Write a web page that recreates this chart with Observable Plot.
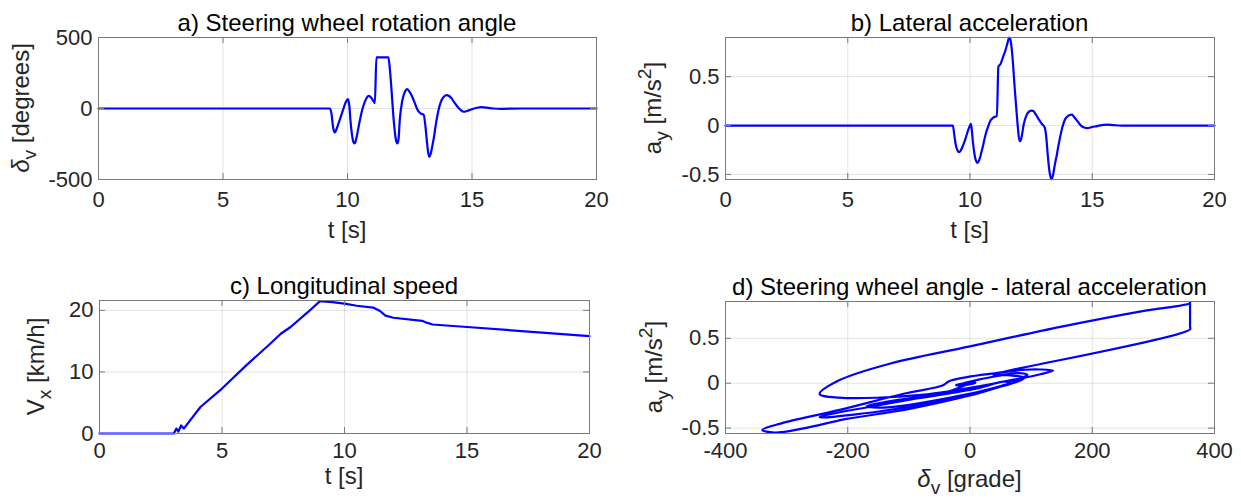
<!DOCTYPE html>
<html><head><meta charset="utf-8">
<script src="https://cdn.jsdelivr.net/npm/d3@7"></script>
<script src="https://cdn.jsdelivr.net/npm/@observablehq/plot@0.6"></script>
<style>
body{margin:0;background:#fff;}
#root{position:relative;width:1241px;height:500px;overflow:hidden;background:#fff;}
#root svg{position:absolute;overflow:visible;}
</style></head><body><div id="root"></div>
<script>
// ---- data ----
const timeMain = [0, 9.30, 9.36, 9.42, 9.49, 9.55, 9.62, 9.72, 9.82, 9.92, 10.01, 10.04, 10.08, 10.12, 10.17, 10.22, 10.28, 10.31, 10.38, 10.45, 10.52, 10.59, 10.66, 10.74, 10.81, 10.86, 10.92, 10.99, 11.05, 11.10, 11.16, 11.25, 11.35, 11.45, 11.53, 11.60, 11.64, 11.70, 11.76, 11.82, 11.88, 11.94, 12.00, 12.05, 12.10, 12.20, 12.30, 12.40, 12.50, 12.58, 12.70, 12.80, 12.93, 13.06, 13.12, 13.18, 13.24, 13.29, 13.34, 13.40, 13.47, 13.55, 13.62, 13.70, 13.78, 13.88, 13.98, 14.08, 14.16, 14.28, 14.41, 14.54, 14.67, 14.80, 15.00, 15.20, 15.38, 15.60, 15.86, 16.20, 17.00, 20.00];
const steerDeg = [0, 0, -40, -130, -169, -150, -115, -63, -10, 40, 66, 55, 10, -87, -170, -225, -246, -240, -190, -125, -63, -10, 30, 65, 84, 89, 82, 66, 50, 38, 360, 360, 360, 360, 360, 360, 360, 280, 150, 0, -130, -215, -246, -215, -80, 55, 115, 136, 115, 90, 40, -5, -35, -44, -110, -215, -310, -340, -320, -270, -204, -110, -40, 20, 60, 85, 94, 88, 75, 45, 14, -10, -23, -18, -5, 5, 9, 6, 0, -2, 0, 0];
const latAcc = [0, 0, -0.10, -0.20, -0.255, -0.272, -0.255, -0.20, -0.13, -0.05, 0.005, 0.017, -0.06, -0.17, -0.27, -0.34, -0.375, -0.381, -0.35, -0.29, -0.22, -0.14, -0.07, -0.01, 0.035, 0.06, 0.075, 0.088, 0.093, 0.095, 0.60, 0.63, 0.70, 0.77, 0.84, 0.90, 0.89, 0.80, 0.63, 0.41, 0.22, 0.03, -0.12, -0.16, -0.13, 0.017, 0.10, 0.14, 0.153, 0.15, 0.11, 0.068, 0.02, -0.024, -0.12, -0.30, -0.45, -0.52, -0.55, -0.50, -0.40, -0.30, -0.20, -0.10, -0.015, 0.06, 0.092, 0.108, 0.112, 0.08, 0.04, 0.0, -0.02, -0.027, -0.015, -0.005, 0.005, 0.01, 0.005, 0, 0, 0];
const timeSpeed = [0, 3.03, 3.14, 3.22, 3.33, 3.44, 4.12, 5.0, 6.0, 7.0, 7.4, 7.8, 8.5, 9.0, 9.5, 10.0, 10.5, 11.17, 11.45, 11.67, 12.0, 13.17, 13.35, 13.6, 15.0, 20.0];
const speedKmh = [0, 0, 0.8, 0.3, 1.3, 0.8, 4.3, 7.3, 11.1, 14.7, 16.2, 17.3, 19.7, 21.5, 21.35, 21.1, 20.75, 20.45, 19.9, 19.15, 18.8, 18.3, 18.0, 17.7, 17.3, 15.8];

const timeTicks = [0, 5, 10, 15, 20];
const steerTicks = [-500, 0, 500];
const accTicks = [-0.5, 0, 0.5];
const speedTicks = [0, 10, 20];
const phaseTicks = [-400, -200, 0, 200, 400];

const titles = ["a) Steering wheel rotation angle", "b) Lateral acceleration", "c) Longitudinal speed", "d) Steering wheel angle - lateral acceleration"];
const labelTime = [["t [s]", ""]];
const labelSteer = [["δ", "it"], ["v", "sub"], [" [degrees]", ""]];
const labelAcc = [["a", ""], ["y", "sub"], [" [m/s", ""], ["2", "sup"], ["]", ""]];
const labelSpeed = [["V", ""], ["x", "sub"], [" [km/h]", ""]];
const labelPhase = [["δ", "it"], ["v", "sub"], [" [grade]", ""]];

// ---- drawing ----
const FONT = '"Liberation Sans", Arial, Helvetica, sans-serif';
const fmt = d => String(d);
const idxMain = d3.range(timeMain.length);
const idxSpeed = d3.range(timeSpeed.length);
const root = document.getElementById("root");

function rich(textSel, parts, size) {
  let shift = 0;
  for (const [str, kind] of parts) {
    const t = textSel.append("tspan").text(str);
    let target = 0, fs = size;
    if (kind === "sub") { target = 0.28 * size; fs = 0.8 * size; }
    if (kind === "sup") { target = -0.42 * size; fs = 0.8 * size; }
    t.attr("dy", target - shift).attr("font-size", fs);
    if (kind === "it") t.attr("font-style", "italic");
    shift = target;
  }
}

function panel(c) {
  const fw = c.width - c.ml - c.mr;
  const fh = c.height - c.mt - c.mb;
  const svg = Plot.plot({
    width: c.width, height: c.height,
    marginLeft: c.ml, marginRight: c.mr, marginTop: c.mt, marginBottom: c.mb,
    style: {fontFamily: FONT, background: "transparent", overflow: "visible"},
    x: {type: "linear", domain: c.xDomain},
    y: {type: "linear", domain: c.yDomain},
    marks: [
      Plot.gridX(c.xTicks, {stroke: "#000", strokeOpacity: 0.11, strokeWidth: 1}),
      Plot.gridY(c.yTicks, {stroke: "#000", strokeOpacity: 0.11, strokeWidth: 1}),
      Plot.line(c.index, {x: c.x, y: c.y, stroke: "#0000ff", strokeWidth: 2.2, curve: c.curve}),
      Plot.tickX(c.xTicks, {x: d => d, insetTop: fh - 6, stroke: "#7a7a7a"}),
      Plot.tickX(c.xTicks, {x: d => d, insetBottom: fh - 6, stroke: "#7a7a7a"}),
      Plot.tickY(c.yTicks, {y: d => d, insetRight: fw - 6, stroke: "#7a7a7a"}),
      Plot.tickY(c.yTicks, {y: d => d, insetLeft: fw - 6, stroke: "#7a7a7a"}),
      Plot.frame({stroke: "#7a7a7a", strokeWidth: 1}),
      Plot.axisX(c.xTicks, {anchor: "bottom", tickSize: 0, tickPadding: c.xPad, tickFormat: fmt, fontSize: 22, fill: "#262626", label: null}),
      Plot.axisY(c.yTicks, {anchor: "left", tickSize: 0, tickPadding: 6, tickFormat: fmt, fontSize: 22, fill: "#262626", label: null})
    ]
  });
  svg.style.left = c.left + "px";
  svg.style.top = c.top + "px";
  const s = d3.select(svg);
  s.append("text").attr("x", c.ml + fw / 2).attr("y", c.mt - 6).attr("text-anchor", "middle")
    .attr("font-family", FONT).attr("font-size", 24).attr("fill", "#000").text(c.title);
  rich(s.append("text").attr("x", c.ml + fw / 2).attr("y", c.mt + fh + c.xLabelOff)
    .attr("text-anchor", "middle").attr("font-family", FONT).attr("fill", "#262626"), c.xLabel, 24);
  rich(s.append("text").attr("transform", `translate(${c.yLabelX},${c.mt + fh / 2}) rotate(-90)`)
    .attr("text-anchor", "middle").attr("font-family", FONT).attr("fill", "#262626"), c.yLabel, 24);
  root.appendChild(svg);
}

panel({left: 0, top: 0, width: 620, height: 250, ml: 98, mr: 24, mt: 37, mb: 71,
  xDomain: [0, 20], yDomain: [-500, 500], xTicks: timeTicks, yTicks: steerTicks,
  index: idxMain, x: i => timeMain[i], y: i => steerDeg[i], curve: "monotone-x",
  title: titles[0], xLabel: labelTime, yLabel: labelSteer, xPad: 12, xLabelOff: 59, yLabelX: 29});

panel({left: 620, top: 0, width: 621, height: 250, ml: 105, mr: 27, mt: 37, mb: 71,
  xDomain: [0, 20], yDomain: [-0.551, 0.9], xTicks: timeTicks, yTicks: accTicks,
  index: idxMain, x: i => timeMain[i], y: i => latAcc[i], curve: "monotone-x",
  title: titles[1], xLabel: labelTime, yLabel: labelAcc, xPad: 12, xLabelOff: 59, yLabelX: 41});

panel({left: 0, top: 250, width: 620, height: 250, ml: 99, mr: 31, mt: 50, mb: 67,
  xDomain: [0, 20], yDomain: [0, 21.6], xTicks: timeTicks, yTicks: speedTicks,
  index: idxSpeed, x: i => timeSpeed[i], y: i => speedKmh[i], curve: "linear",
  title: titles[2], xLabel: labelTime, yLabel: labelSpeed, xPad: 9, xLabelOff: 51, yLabelX: 44});

panel({left: 620, top: 250, width: 621, height: 250, ml: 105, mr: 27, mt: 51, mb: 67,
  xDomain: [-400, 400], yDomain: [-0.56, 0.91], xTicks: phaseTicks, yTicks: accTicks,
  index: idxMain, x: i => steerDeg[i], y: i => latAcc[i], curve: "catmull-rom",
  title: titles[3], xLabel: labelPhase, yLabel: labelAcc, xPad: 9, xLabelOff: 54, yLabelX: 42});
</script>
</body></html>
